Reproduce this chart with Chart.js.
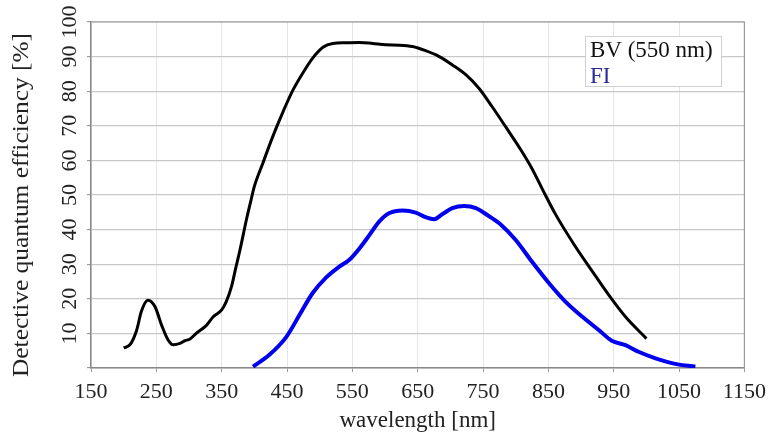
<!DOCTYPE html>
<html>
<head>
<meta charset="utf-8">
<script src="https://cdn.jsdelivr.net/npm/chart.js@4/dist/chart.umd.min.js"></script>
<style>
  html, body { margin: 0; padding: 0; background: #fff; }
  canvas { display: block; }
</style>
</head>
<body>
<canvas id="qeChart" width="773" height="441"></canvas>
<script>
// BV (back-illuminated) curve
const bvWavelength = [200, 210, 220, 227, 237, 248, 258, 268, 276, 286, 294, 301, 311, 327, 337, 350, 357, 365, 372, 378, 388, 395, 400, 413, 428, 444, 459, 474, 489, 505, 520, 540, 561, 581, 601, 622, 642, 662, 683, 703, 724, 744, 764, 785, 808, 825, 840, 861, 891, 917, 942, 968, 1000];
const bvQE = [5.8, 6.8, 11, 16.3, 19.6, 17.7, 12.4, 8.1, 6.7, 7.1, 7.9, 8.3, 10, 12.4, 14.8, 16.8, 19.2, 23.5, 29.3, 34.1, 43, 48.6, 52.5, 59.2, 66.8, 74.1, 80.3, 85.2, 89.5, 92.7, 93.8, 94, 94.1, 93.8, 93.4, 93.3, 92.9, 91.7, 90, 87.6, 84.7, 80.8, 75.5, 69.6, 63.0, 57.6, 52.0, 44.4, 35.2, 28.0, 21.2, 14.8, 8.5];

// FI (front-illuminated) curve
const fiWavelength = [398, 423, 449, 469, 489, 510, 530, 545, 561, 576, 591, 606, 627, 647, 662, 675, 688, 703, 721, 739, 759, 777, 800, 825, 851, 876, 902, 927, 947, 968, 988, 1014, 1044, 1075];
const fiQE = [0.4, 3.8, 9.0, 15.3, 21.6, 26.2, 29.3, 31.2, 34.6, 38.4, 42.3, 44.7, 45.5, 44.9, 43.6, 43.0, 44.5, 46.2, 46.8, 46.2, 43.9, 41.5, 37, 30.7, 24.5, 19.2, 14.8, 11.0, 7.9, 6.6, 4.7, 2.8, 1.2, 0.4];

const seriesLabels = ['BV (550 nm)', 'FI'];
const legendColors = ['#111111', '#2b2b9c'];
const yTicks = [10, 20, 30, 40, 50, 60, 70, 80, 90, 100];
const xTitle = 'wavelength [nm]';
const yTitle = 'Detective quantum efficiency [%]';

const SERIF = "'Liberation Serif', 'Times New Roman', serif";

function toPoints(xs, ys) {
    return xs.map((x, i) => ({ x: x, y: ys[i] }));
}

// frame, rotated y labels, y title and legend box
const decorPlugin = {
    id: 'decor',
    afterDraw(chart) {
        const ctx = chart.ctx;
        const area = chart.chartArea;
        const yScale = chart.scales.y;

        ctx.save();
        ctx.strokeStyle = '#9a9a9a';
        ctx.lineWidth = 1.2;
        ctx.beginPath();
        ctx.moveTo(area.left, area.top);
        ctx.lineTo(area.right, area.top);
        ctx.lineTo(area.right, area.bottom);
        ctx.stroke();

        // y tick labels, rotated
        ctx.fillStyle = '#222';
        ctx.font = '22px ' + SERIF;
        ctx.textAlign = 'center';
        ctx.textBaseline = 'alphabetic';
        yTicks.forEach(v => {
            const py = yScale.getPixelForValue(v);
            ctx.save();
            ctx.translate(76, py);
            ctx.rotate(-Math.PI / 2);
            ctx.fillText(String(v), 0, 0);
            ctx.restore();
        });

        // y title
        ctx.save();
        ctx.font = '23px ' + SERIF;
        ctx.translate(28, 205);
        ctx.rotate(-Math.PI / 2);
        const w = ctx.measureText(yTitle).width;
        ctx.scale(344 / w, 1);
        ctx.fillText(yTitle, 0, 0);
        ctx.restore();

        // legend
        ctx.fillStyle = '#fff';
        ctx.fillRect(585.5, 36.5, 136, 50);
        ctx.strokeStyle = '#d0d0d0';
        ctx.lineWidth = 1;
        ctx.strokeRect(585.5, 36.5, 136, 50);
        ctx.font = '23px ' + SERIF;
        ctx.textAlign = 'left';
        chart.data.datasets.forEach((ds, i) => {
            ctx.fillStyle = legendColors[i];
            ctx.fillText(ds.label, 590, 57 + i * 26);
        });
        ctx.restore();
    }
};

const ctx = document.getElementById('qeChart').getContext('2d');

new Chart(ctx, {
    type: 'line',
    data: {
        datasets: [
            {
                label: seriesLabels[0],
                data: toPoints(bvWavelength, bvQE),
                borderColor: '#000',
                borderWidth: 3,
                pointRadius: 0,
                cubicInterpolationMode: 'monotone',
                fill: false
            },
            {
                label: seriesLabels[1],
                data: toPoints(fiWavelength, fiQE),
                borderColor: '#0000ee',
                borderWidth: 4,
                pointRadius: 0,
                cubicInterpolationMode: 'monotone',
                fill: false
            }
        ]
    },
    options: {
        responsive: false,
        animation: false,
        devicePixelRatio: 1,
        layout: { padding: { top: 22, right: 26, left: 0, bottom: 0 } },
        plugins: {
            legend: { display: false },
            tooltip: { enabled: false }
        },
        scales: {
            x: {
                type: 'linear',
                min: 150,
                max: 1150,
                afterFit: function(scale) { scale.height = 73; },
                ticks: {
                    stepSize: 100,
                    color: '#222',
                    padding: 7,
                    maxRotation: 0,
                    font: { family: SERIF, size: 22 },
                    callback: function(value) { return String(value); }
                },
                grid: { color: '#e6e6e6', tickColor: '#999', tickLength: 4, lineWidth: 1 },
                border: { color: '#888', width: 1.5 },
                title: {
                    display: true,
                    text: xTitle,
                    color: '#222',
                    font: { family: SERIF, size: 23 },
                    padding: { top: 0, bottom: 6 }
                }
            },
            y: {
                min: 0,
                max: 100,
                afterFit: function(scale) { scale.width = 91; },
                ticks: { stepSize: 10, display: false },
                grid: { color: '#c8c8c8', tickColor: '#999', tickLength: 4, lineWidth: 1.2 },
                border: { color: '#888', width: 1.5 }
            }
        }
    },
    plugins: [decorPlugin]
});
</script>
</body>
</html>
